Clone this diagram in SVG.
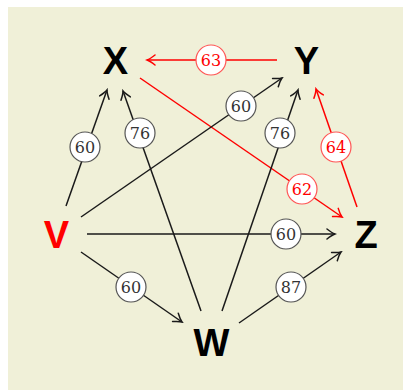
<svg xmlns="http://www.w3.org/2000/svg" width="403" height="390" viewBox="0 0 403 390">
<defs>
<style>
.node{font-family:"Liberation Sans",Arial,sans-serif;font-weight:bold;font-size:38px;text-anchor:middle;dominant-baseline:central}
.e{stroke:#1a1a1a;stroke-width:1.5;fill:none}
.r{stroke:#ff0000;stroke-width:1.5;fill:none}
.lb circle{fill:#ffffff;stroke:#555555;stroke-width:1.2}
.lb text{fill:#333333}
.lr circle{fill:#ffffff;stroke:#ff5555;stroke-width:1.2}
.lr text{fill:#ff0000}
.lb text,.lr text{font-family:"DejaVu Serif","Liberation Serif",serif;font-size:16px;text-anchor:middle;dominant-baseline:central}
</style>
<marker id="ab" viewBox="-10 -6 12 12" refX="0" refY="0" markerWidth="12" markerHeight="12" markerUnits="userSpaceOnUse" orient="auto">
<path d="M-8,-5 Q-3,-1 0,0 Q-3,1 -8,5" fill="none" stroke="#1a1a1a" stroke-width="1.5" stroke-linecap="round"/>
</marker>
<marker id="ar" viewBox="-10 -6 12 12" refX="0" refY="0" markerWidth="12" markerHeight="12" markerUnits="userSpaceOnUse" orient="auto">
<path d="M-8,-5 Q-3,-1 0,0 Q-3,1 -8,5" fill="none" stroke="#ff0000" stroke-width="1.5" stroke-linecap="round"/>
</marker>
</defs>
<rect x="8" y="7" width="395" height="383" fill="#f0f0d8"/>
<g id="connectors">
<line class="r" x1="277" y1="60" x2="147" y2="60" marker-end="url(#ar)"/>
<line class="r" x1="140" y1="78" x2="342" y2="217" marker-end="url(#ar)"/>
<line class="r" x1="357" y1="207" x2="316" y2="89" marker-end="url(#ar)"/>
<line class="e" x1="66" y1="206" x2="107" y2="90" marker-end="url(#ab)"/>
<line class="e" x1="201" y1="311" x2="123" y2="91" marker-end="url(#ab)"/>
<line class="e" x1="81" y1="217" x2="282" y2="78" marker-end="url(#ab)"/>
<line class="e" x1="222" y1="311" x2="298" y2="90" marker-end="url(#ab)"/>
<line class="e" x1="87" y1="234" x2="335" y2="234" marker-end="url(#ab)"/>
<line class="e" x1="81" y1="252" x2="182" y2="322" marker-end="url(#ab)"/>
<line class="e" x1="239" y1="323" x2="341" y2="252" marker-end="url(#ab)"/>
<g class="lr"><circle cx="211" cy="60" r="15"/><text x="211" y="60">63</text></g>
<g class="lr"><circle cx="302" cy="189" r="15"/><text x="302" y="189">62</text></g>
<g class="lr"><circle cx="336" cy="147" r="15"/><text x="336" y="147">64</text></g>
<g class="lb"><circle cx="85" cy="147" r="15"/><text x="85" y="147">60</text></g>
<g class="lb"><circle cx="140" cy="133" r="15"/><text x="140" y="133">76</text></g>
<g class="lb"><circle cx="241" cy="106" r="15"/><text x="241" y="106">60</text></g>
<g class="lb"><circle cx="280" cy="133" r="15"/><text x="280" y="133">76</text></g>
<g class="lb"><circle cx="286" cy="234" r="15"/><text x="286" y="234">60</text></g>
<g class="lb"><circle cx="131" cy="287" r="15"/><text x="131" y="287">60</text></g>
<g class="lb"><circle cx="291" cy="287" r="15"/><text x="291" y="287">87</text></g>
</g>
<g id="X"><text class="node" x="115.5" y="61" fill="#000">X</text></g>
<g id="Y"><text class="node" x="306.5" y="61" fill="#000">Y</text></g>
<g id="V"><text class="node" x="56.5" y="235" fill="#ff0000">V</text></g>
<g id="Z"><text class="node" x="366" y="235" fill="#000">Z</text></g>
<g id="W"><text class="node" x="211.5" y="343" fill="#000">W</text></g>
</svg>
